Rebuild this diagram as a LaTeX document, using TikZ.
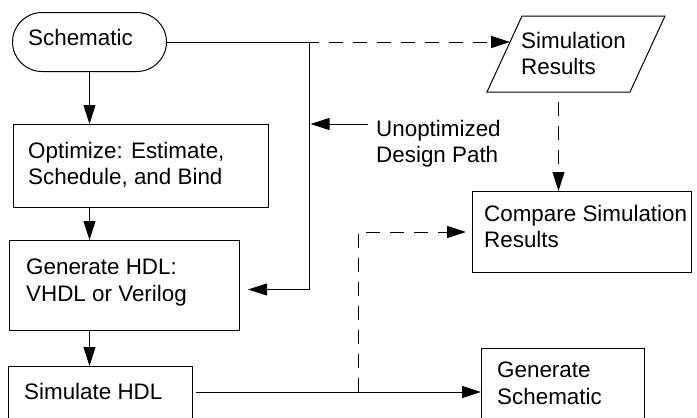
\documentclass[tikz,border=0pt]{standalone}
\usepackage{fontspec}
\setmainfont{Liberation Sans}
\usetikzlibrary{arrows.meta, calc}

\begin{document}
\begin{tikzpicture}[x=1pt, y=-1pt,
  box/.style={draw, line width=1pt, anchor=north west, inner sep=0pt},
  txt/.style={anchor=north west, align=left, inner sep=0pt,
              font=\fontsize{22.4}{26.5}\selectfont},
  wire/.style={line width=1pt},
  arr/.style={wire, -{Triangle[length=19pt, width=12pt]}},
  dashwire/.style={dash pattern=on 14pt off 10pt}
]
\useasboundingbox (0,0) rectangle (697,418);

% --- process boxes ---
\node[box, rounded corners=29.5pt, minimum width=154pt, minimum height=59pt] (sch) at (12,12) {};
\node[box, minimum width=255pt, minimum height=83pt] (opt) at (13,124) {};
\node[box, minimum width=230pt, minimum height=90pt] (ghdl) at (9,240) {};
\node[box, minimum width=184pt, minimum height=64pt] (shdl) at (8,366) {};
\node[box, minimum width=219pt, minimum height=81pt] (cmp) at (472,191) {};
\node[box, minimum width=163pt, minimum height=92pt] (gsch) at (481,348) {};

% data symbol: a parallelogram inside the frame of node simres
\node[anchor=north west, inner sep=0pt, outer sep=0pt,
      minimum width=178pt, minimum height=76pt] (simres) at (487,16) {};
\draw[wire] ([xshift=35pt]simres.north west) -- (simres.north east)
  -- ([xshift=-35pt]simres.south east) -- (simres.south west) -- cycle;

% --- texts ---
\node[txt] (tsch) at (28,29) {Schematic};
\node[txt] (topt) at (28,142) {Optimize: Estimate,\\Schedule, and Bind};
\node[txt] (tghdl) at (26,259) {Generate HDL:\\VHDL or Verilog};
\node[txt] (tshdl) at (24,383) {Simulate HDL};
\node[txt] (tsim) at (521,32) {Simulation\\Results};
\node[txt] (tcmp) at (484,205) {Compare Simulation\\Results};
\node[txt] (tgsch) at (497,362) {Generate\\Schematic};
\node[txt] (lbl) at (376,120) {Unoptimized\\Design Path};

% --- helper points ---
\coordinate (bx) at (309,0);    % x of the bypass line
\coordinate (tap) at (358,0);   % x of the dashed tap
\coordinate (simL) at ($(simres.south west)!0.66!([xshift=35pt]simres.north west)$);
\coordinate (simB) at ($(simres.south west)!0.5!([xshift=-35pt]simres.south east)$);
\coordinate (lblin) at ($(lbl.north west)+(-8,4)$);
\coordinate (sout) at ($(shdl.north east)+(3,26)$);

% --- main flow ---
\draw[arr] (sch.south) -- (sch.south |- opt.north);
\draw[arr] (sch.south |- opt.south) -- (sch.south |- ghdl.north);
\draw[arr] (sch.south |- ghdl.south) -- (sch.south |- shdl.north);

% --- unoptimized bypass ---
\draw[wire] (sch.east) -- ++(152,0) coordinate (dstart);
\draw[arr] (sch.east -| bx) |- ([shift={(8,4)}]ghdl.east);
\draw[arr, shorten >=1.5pt] (lblin) -- (lblin -| bx);

% --- simulation results ---
\draw[arr, dashwire, dash phase=14pt] (dstart) -- (dstart -| simL);
\draw[arr, dashwire, dash phase=14pt] (simB) -- (simB |- cmp.north);

% --- simulate to schematic, with dashed tap to compare ---
\draw[arr] (sout) -- (sout -| gsch.west);
\draw[arr, dashwire] (sout -| tap) |- ([xshift=-6pt]cmp.west);
\end{tikzpicture}
\end{document}
